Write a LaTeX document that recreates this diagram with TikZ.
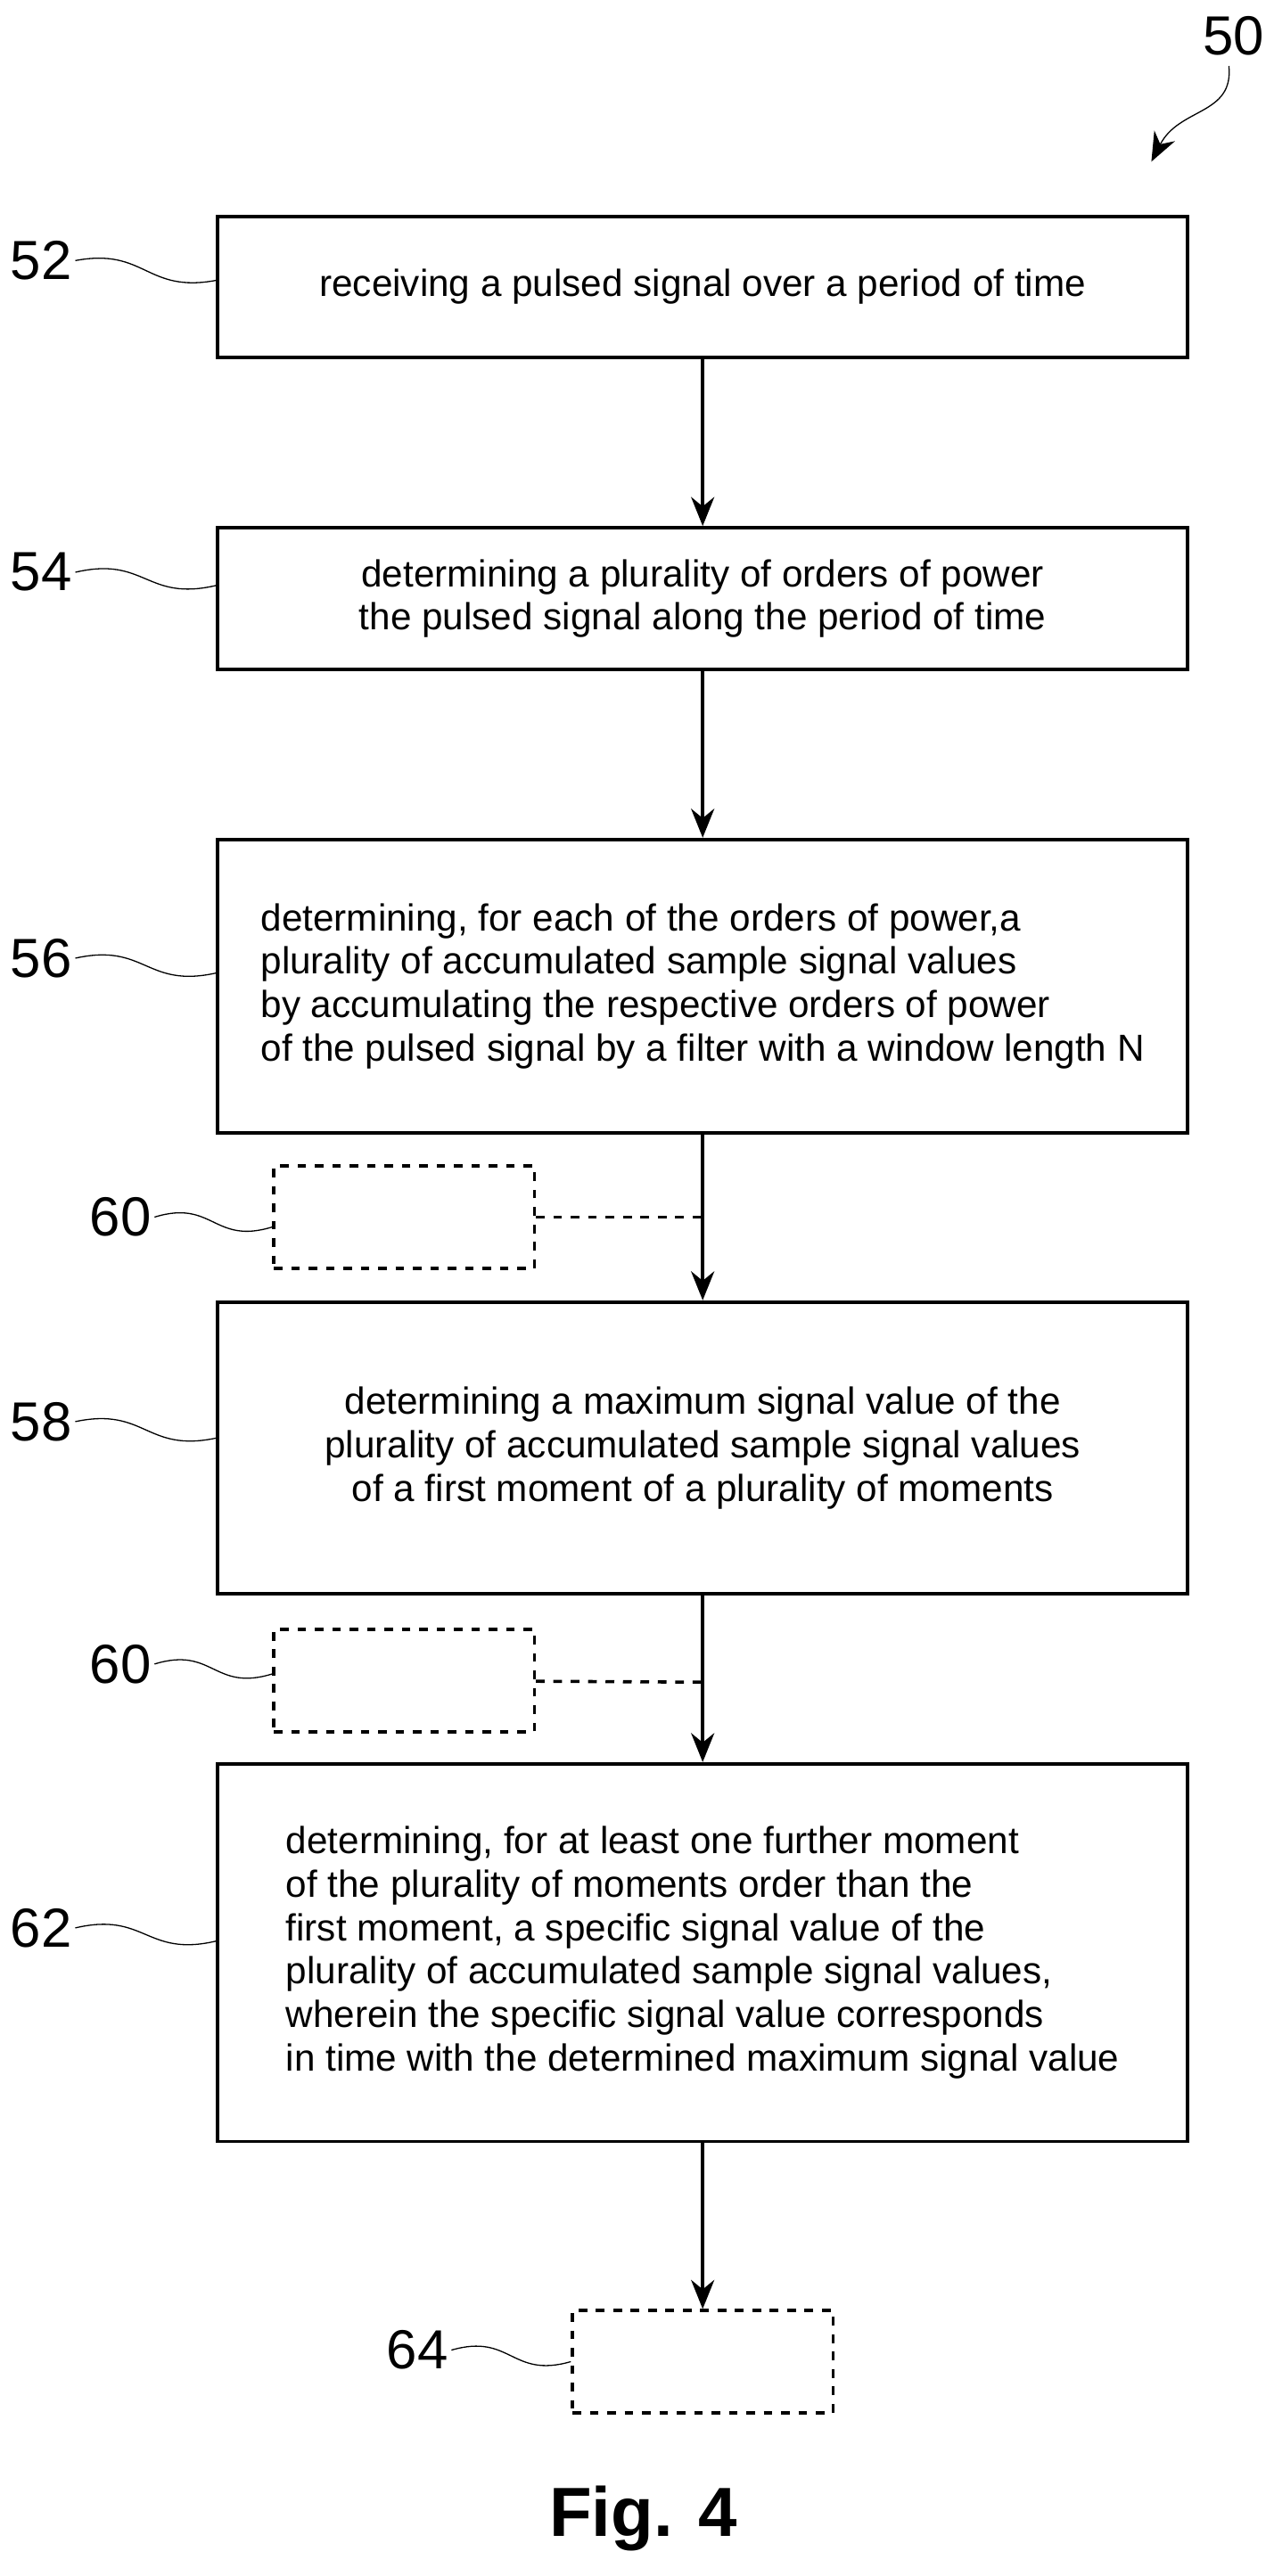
\documentclass[tikz,border=0pt]{standalone}
\usepackage{fontspec}
\setmainfont{Liberation Sans}
\usetikzlibrary{arrows.meta, positioning, calc}
\tikzset{
    stepbox/.style={draw, line width=1.2pt, minimum width=11.76cm, inner sep=0pt, font=\fontsize{13}{15}\selectfont},
    option/.style={draw, line width=1.1pt, dashed, minimum width=3.16cm, minimum height=1.24cm},
    ref/.style={font=\fontsize{19}{22}\selectfont, inner sep=1pt},
    flow/.style={-{Stealth[length=10pt,width=8pt]}, line width=1.2pt},
    leader/.style={thin},
    link/.style={line width=1.1pt, dashed}
}
\newcommand{\leadto}[2]{\draw[leader] (#1.east) .. controls ($(#1.east)!0.5!(#2)+(0,-14)$) and ($(#1.east)!0.5!(#2)+(0,14)$) .. (#2);}
\begin{document}
\begin{tikzpicture}[x=0.02cm, y=-0.02cm]
    \useasboundingbox (0,0) rectangle (772,1562);
    % process steps
    \node[stepbox, minimum height=1.70cm] (recv) at (426,174) {receiving a pulsed signal over a period of time};
    \node[stepbox, minimum height=1.72cm, align=center] (orders) at (426,363) {determining a plurality of orders of power\\the pulsed signal along the period of time};
    \node[stepbox, minimum height=3.56cm, align=left] (accum) at (426,598) {determining, for each of the orders of power,a\\plurality of accumulated sample signal values\\by accumulating the respective orders of power\\of the pulsed signal by a filter with a window length N};
    \node[stepbox, minimum height=3.54cm, align=center] (maxval) at (426,878) {determining a maximum signal value of the\\plurality of accumulated sample signal values\\of a first moment of a plurality of moments};
    \node[stepbox, minimum height=4.58cm, align=left] (specific) at (426,1184) {determining, for at least one further moment\\of the plurality of moments order than the\\first moment, a specific signal value of the\\plurality of accumulated sample signal values,\\wherein the specific signal value corresponds\\in time with the determined maximum signal value};
    % optional steps
    \node[option] (opt1) at (245,738) {};
    \node[option] (opt2) at (245,1019) {};
    \node[option] (out) at (426,1432) {};
    % flow
    \draw[flow] (recv) -- (orders);
    \draw[flow] (orders) -- (accum);
    \draw[flow] (accum) -- (maxval);
    \draw[flow] (maxval) -- (specific);
    \draw[flow] (specific) -- (out);
    \coordinate (j1) at (426,738);
    \coordinate (j2) at (426,1020);
    \draw[link] (opt1) -- (j1);
    \draw[link] (opt2) -- (j2);
    % reference numerals
    \node[ref] (n52) at (25,158) {52};
    \node[ref] (n54) at (25,347) {54};
    \node[ref] (n56) at (25,581) {56};
    \node[ref] (n58) at (25,862) {58};
    \node[ref] (n60a) at (73,738) {60};
    \node[ref] (n60b) at (73,1009) {60};
    \node[ref] (n62) at (25,1169) {62};
    \node[ref] (n64) at (253,1425) {64};
    \node[ref] (n50) at (748,22) {50};
    \leadto{n52}{recv.west |- 0,170}
    \leadto{n54}{orders.west |- 0,355}
    \leadto{n56}{accum.west |- 0,590}
    \leadto{n58}{maxval.west |- 0,872}
    \leadto{n60a}{opt1.west |- 0,744}
    \leadto{n60b}{opt2.west |- 0,1015}
    \leadto{n62}{specific.west |- 0,1177}
    \leadto{n64}{out.west |- 0,1432}
    \coordinate (tip50) at (698,98);
    \draw[-{Stealth[length=10pt,width=8pt]}, thin] (745,40) .. controls (748,70) and (715,65) .. (tip50);
    \node[font=\bfseries\fontsize{24}{28}\selectfont] (fig) at (390,1527) {Fig. 4};
\end{tikzpicture}
\end{document}
